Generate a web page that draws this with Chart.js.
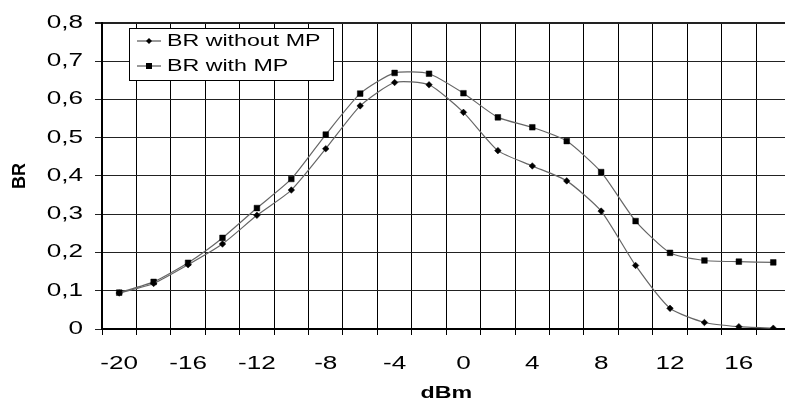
<!DOCTYPE html>
<html>
<head>
<meta charset="utf-8">
<script src="https://cdn.jsdelivr.net/npm/chart.js@4.4.1/dist/chart.umd.min.js"></script>
<style>
  html, body { margin: 0; padding: 0; background: #fff; overflow: hidden; width: 785px; height: 407px; }
  #wrap { width: 795px; height: 407px; }
</style>
</head>
<body>
<div id="wrap"><canvas id="c" width="795" height="407"></canvas></div>
<script>
// ---- data ----
const categories = [-20, -18, -16, -14, -12, -10, -8, -6, -4, -2, 0, 2, 4, 6, 8, 10, 12, 14, 16, 18];
const brWithoutMP = [0.094, 0.119, 0.168, 0.222, 0.297, 0.363, 0.471, 0.583, 0.644, 0.638, 0.566, 0.466, 0.426, 0.387, 0.308, 0.166, 0.054, 0.017, 0.006, 0.002];
const brWithMP    = [0.095, 0.123, 0.173, 0.238, 0.316, 0.392, 0.508, 0.615, 0.669, 0.667, 0.616, 0.553, 0.527, 0.491, 0.410, 0.282, 0.199, 0.179, 0.176, 0.174];
const seriesLabels = ['BR without MP', 'BR with MP'];
const xTitle = 'dBm';
const yTitle = 'BR';

// horizontally widened text, like the reference
const SX = 1.45;
const canvas = document.getElementById('c');
const ctx = canvas.getContext('2d');
const origFillText = CanvasRenderingContext2D.prototype.fillText;
ctx.fillText = function (t, x, y, mw) {
  const m = this.getTransform();
  if (Math.abs(m.b) > 1e-6 || Math.abs(m.c) > 1e-6) {
    return origFillText.call(this, t, x, y);
  }
  this.save();
  this.translate(x, y);
  this.scale(SX, 1);
  origFillText.call(this, t, 0, 0);
  this.restore();
};

const FONT = "'Liberation Sans', Arial, sans-serif";

const legendPlugin = {
  id: 'boxLegend',
  afterDraw(chart) {
    const c = chart.ctx;
    const box = { x: 129.5, y: 28.5, w: 204, h: 52 };
    c.save();
    c.fillStyle = '#fff';
    c.fillRect(box.x, box.y, box.w, box.h);
    c.strokeStyle = '#000';
    c.lineWidth = 1;
    c.strokeRect(box.x, box.y, box.w, box.h);
    const rows = [41, 66];
    chart.data.datasets.forEach((ds, i) => {
      const y = rows[i];
      c.strokeStyle = '#555';
      c.lineWidth = 1.2;
      c.beginPath();
      c.moveTo(137, y);
      c.lineTo(161, y);
      c.stroke();
      c.fillStyle = '#000';
      c.beginPath();
      if (i === 0) {
        const s = 3;
        c.moveTo(149 - s, y); c.lineTo(149, y - s); c.lineTo(149 + s, y); c.lineTo(149, y + s);
        c.closePath();
      } else {
        c.rect(146, y - 3, 6, 6);
      }
      c.fill();
      c.fillStyle = '#000';
      c.font = '16px ' + FONT;
      c.textAlign = 'left';
      c.textBaseline = 'middle';
      c.fillText(ds.label, 167, y + 1);
    });
    c.restore();
  }
};

new Chart(ctx, {
  type: 'line',
  data: {
    labels: categories,
    datasets: [
      {
        label: seriesLabels[0],
        data: brWithoutMP,
        borderColor: '#666',
        borderWidth: 1.2,
        pointStyle: 'rectRot',
        pointRadius: 3.3,
        pointBackgroundColor: '#000',
        pointBorderColor: '#000',
        pointBorderWidth: 0.5,
        tension: 0.2,
        fill: false
      },
      {
        label: seriesLabels[1],
        data: brWithMP,
        borderColor: '#666',
        borderWidth: 1.2,
        pointStyle: 'rect',
        pointRadius: 4,
        pointBackgroundColor: '#000',
        pointBorderColor: '#000',
        pointBorderWidth: 0.5,
        tension: 0.2,
        fill: false
      }
    ]
  },
  options: {
    responsive: false,
    animation: false,
    devicePixelRatio: 1,
    layout: { padding: { top: 17, right: 0, left: 0, bottom: 0 } },
    plugins: {
      legend: { display: false },
      tooltip: { enabled: false }
    },
    scales: {
      x: {
        type: 'category',
        offset: true,
        grid: {
          offset: true,
          color: '#000',
          lineWidth: 1,
          tickLength: 6,
          drawTicks: true
        },
        border: { display: true, color: '#000', width: 2 },
        ticks: {
          autoSkip: false,
          maxRotation: 0,
          minRotation: 0,
          color: '#000',
          padding: 18,
          font: { family: FONT, size: 18 },
          callback: function (val, idx) { return idx % 2 === 0 ? String(this.getLabelForValue(val)) : ''; }
        },
        title: {
          display: true,
          text: xTitle,
          color: '#000',
          font: { family: FONT, size: 16, weight: 'bold' },
          padding: { top: 0, bottom: 4 }
        },
        afterFit: (s) => { s.height = 78; }
      },
      y: {
        min: 0,
        max: 0.8,
        ticks: {
          stepSize: 0.1,
          color: '#000',
          padding: 12,
          font: { family: FONT, size: 18 },
          callback: (v) => (Math.abs(v) < 1e-9 ? '0' : v.toFixed(1).replace('.', ','))
        },
        grid: {
          color: '#222',
          lineWidth: (c) => (c.tick && Math.abs(c.tick.value - 0.8) < 1e-6 ? 2 : 1),
          tickLength: 7,
          drawTicks: true
        },
        border: { display: true, color: '#000', width: 2 },
        title: {
          display: true,
          text: yTitle,
          color: '#000',
          font: { family: FONT, size: 18, weight: 'bold' },
          padding: { top: 9, bottom: 0 }
        },
        afterFit: (s) => { s.width = 102; }
      }
    }
  },
  plugins: [legendPlugin]
});
</script>
</body>
</html>
